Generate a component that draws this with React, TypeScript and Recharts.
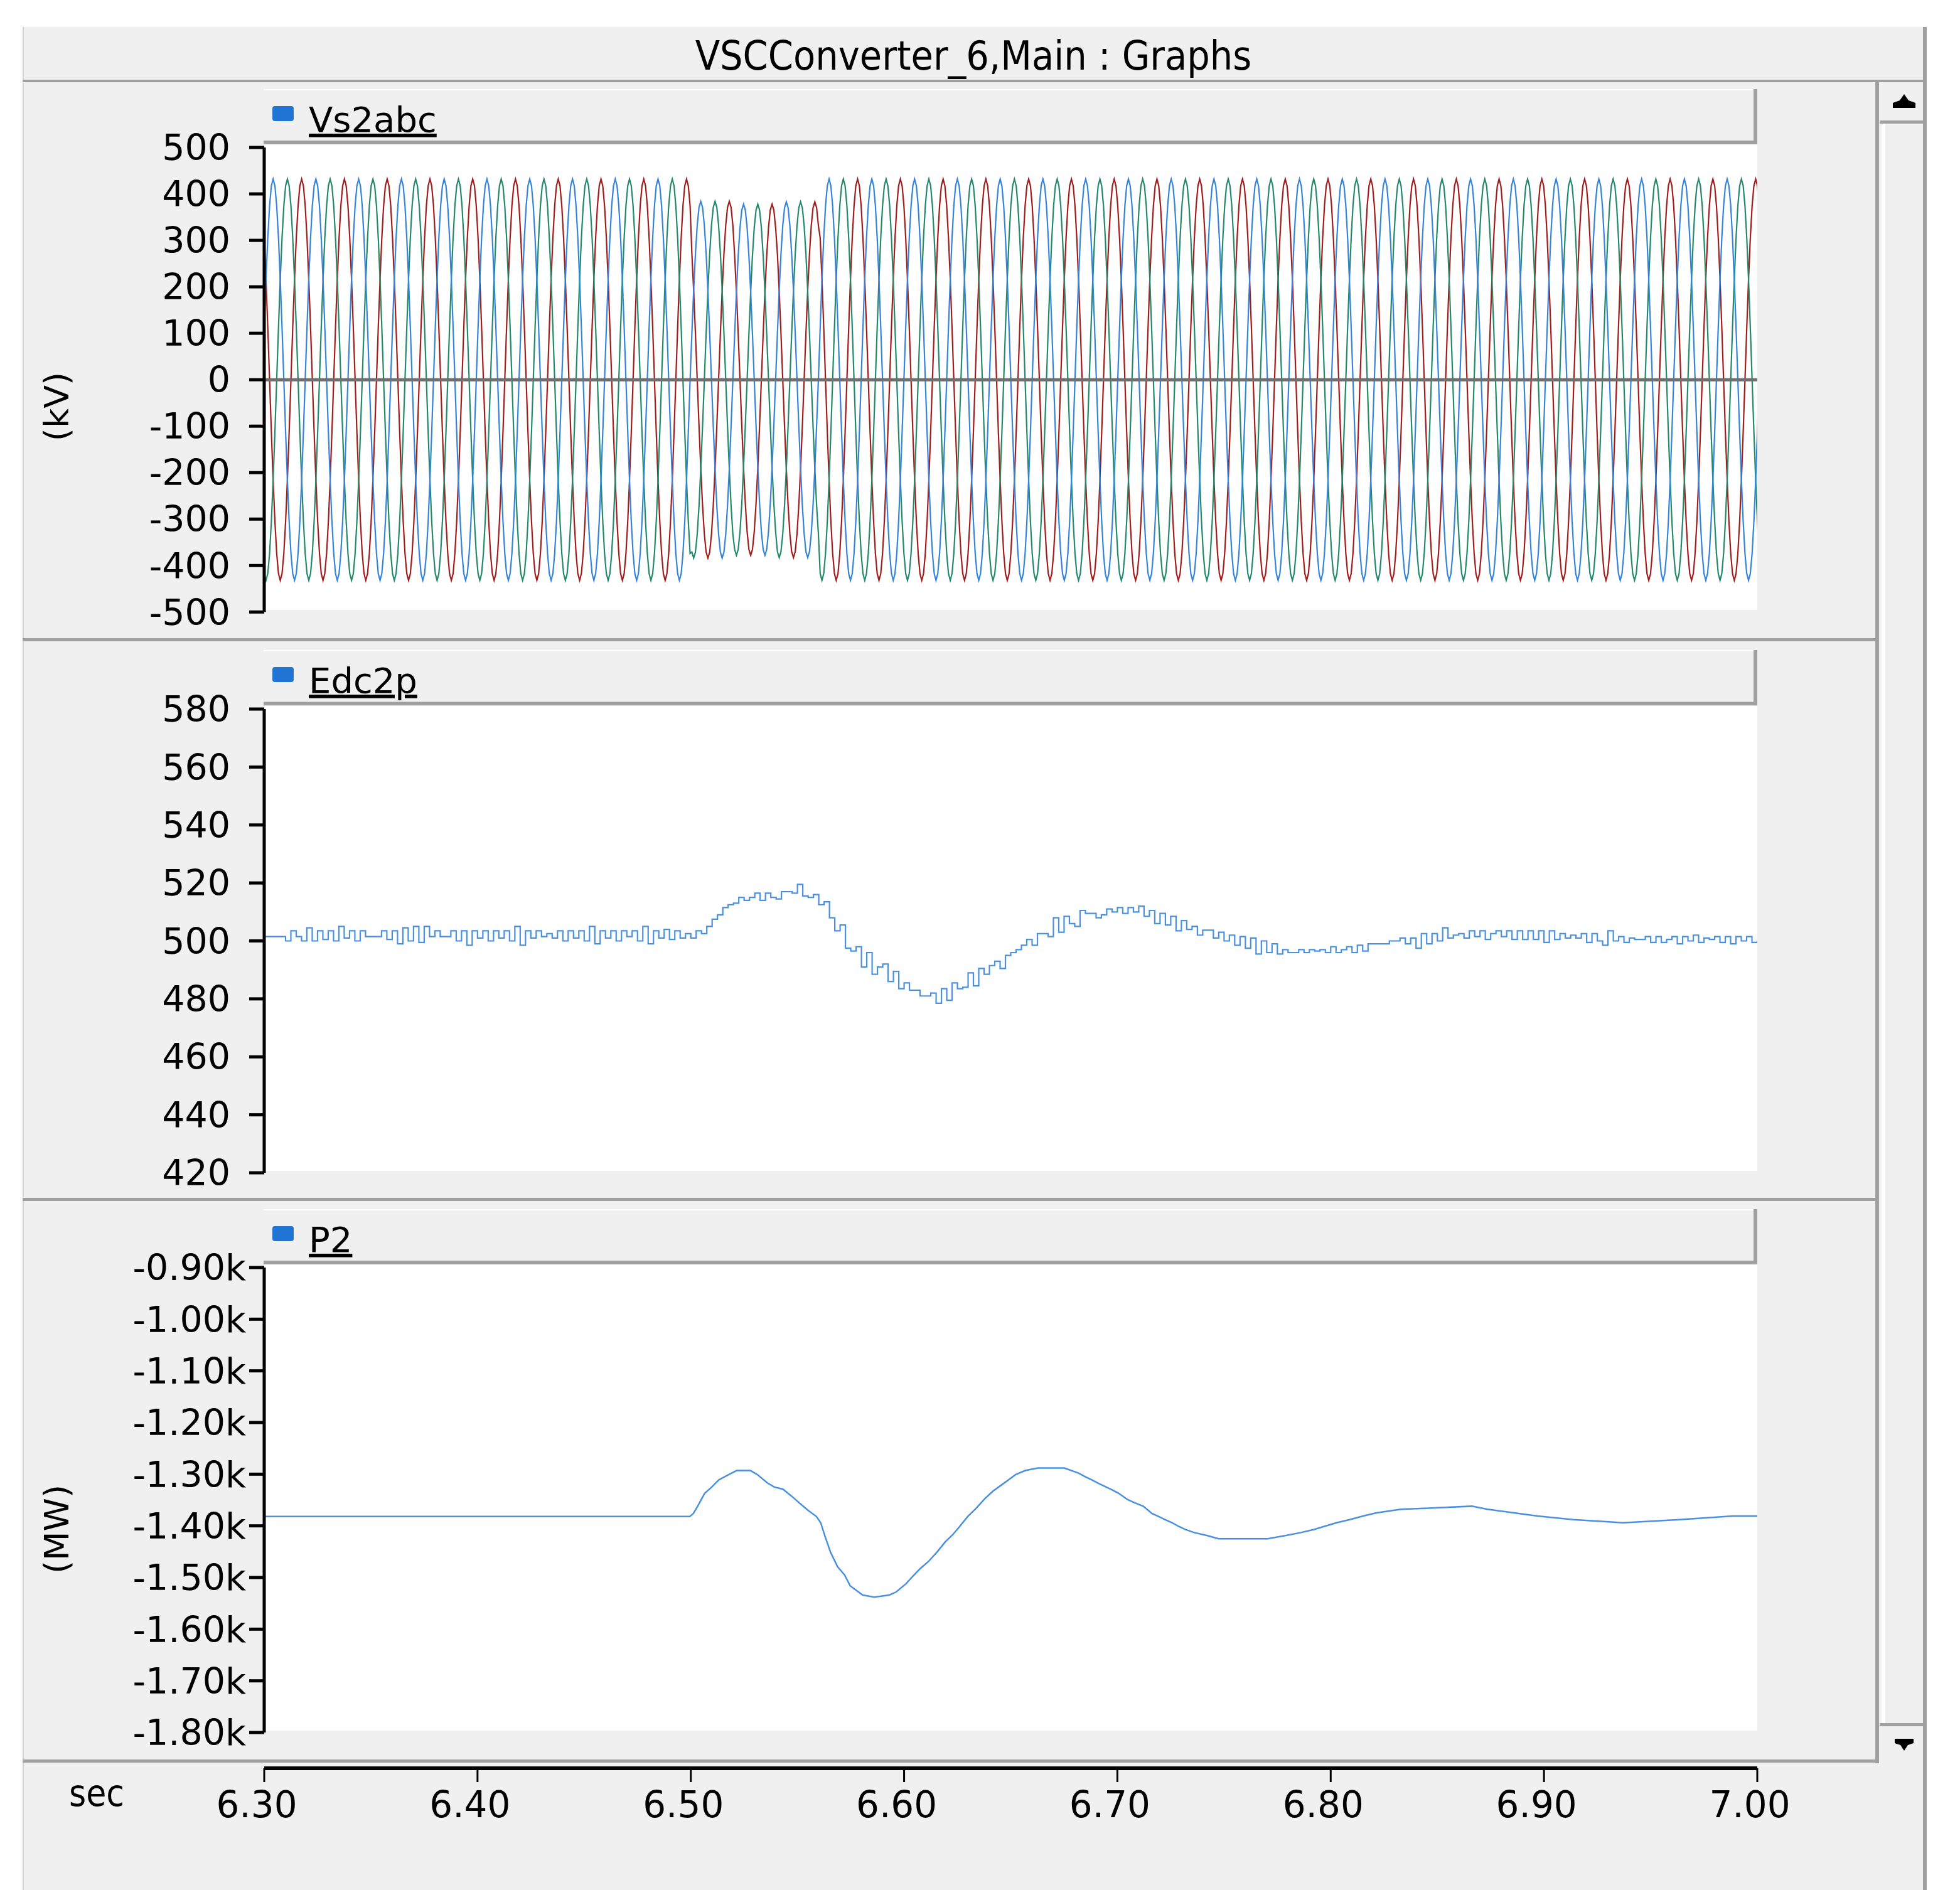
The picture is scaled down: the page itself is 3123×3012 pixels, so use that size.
import React from 'react';
import { LineChart, Line, XAxis, YAxis, ReferenceLine } from 'recharts';

const FONT_C = '"DejaVu Sans Condensed", "DejaVu Sans", Verdana, sans-serif';
const FONT = '"DejaVu Sans", Verdana, sans-serif';

const titleText = 'VSCConverter_6,Main : Graphs';
const timeDomain = [6.3, 7.0];
const timeTicks = [6.3, 6.4, 6.5, 6.6, 6.7, 6.8, 6.9, 7.0];

const vsTicks = [500, 400, 300, 200, 100, 0, -100, -200, -300, -400, -500];
const edcTicks = [580, 560, 540, 520, 500, 480, 460, 440, 420];
const p2Ticks = [-900, -1000, -1100, -1200, -1300, -1400, -1500, -1600, -1700, -1800];

// Vs2abc : one sampled cycle (24 samples, normalised), the period read from the peaks, and the peak (kV) of every cycle
const vsStart = 6.3;
const vsCycleSeconds = 0.02005;
const vsUnitCycle = [0, 0.259, 0.5, 0.707, 0.866, 0.966, 1, 0.966, 0.866, 0.707, 0.5, 0.259,
  0, -0.259, -0.5, -0.707, -0.866, -0.966, -1, -0.966, -0.866, -0.707, -0.5, -0.259];
const vsCyclePeak = [432, 432, 432, 432, 432, 432, 432, 432, 432, 432,
  384, 378, 383,
  432, 432, 432, 432, 432, 432, 432, 432, 432, 432, 432,
  432, 432, 432, 432, 432, 432, 432, 432, 432, 432, 432];
const vsPhaseOffset = { blue: 1, red: 9, green: 17 };

// Edc2p (kV), one value every 2.5 ms from 6.30 s
const edcStart = 6.3;
const edcStep = 0.0025;
const edcValues = [
  501.5, 501.5, 501.5, 501.5, 500, 503.5, 501.5, 500, 504.5, 500,
  503.5, 500.5, 503.5, 500, 505, 501, 503.5, 500, 503.5, 501.5,
  501.5, 501.5, 503.5, 500.5, 503.5, 499, 504.5, 500, 505, 499.5,
  505, 501.5, 503.5, 501.5, 501.5, 503.5, 500, 503.5, 498.5, 503.5,
  501, 503.5, 500, 503.5, 501, 503.5, 500, 505, 498.5, 503.5,
  501, 503.5, 501.5, 502.5, 501, 503.5, 500, 503.5, 501, 503.5,
  500, 505, 499, 503.5, 501, 503.5, 500, 503.5, 501.5, 503.5,
  500, 505, 499, 503.5, 501, 504, 500.5, 503.5, 501, 502.5,
  501, 503.5, 502.5, 505, 507.5, 509, 511.5, 512.5, 513, 515,
  514, 515, 516.5, 514, 516.5, 515, 514.5, 517, 517, 516.5,
  519.5, 515.5, 515, 516, 512.5, 513.5, 508, 503.5, 505.5, 497.5,
  496.5, 498, 491, 496, 488.5, 491, 492, 486, 489.5, 483.5,
  485.5, 483, 483, 481, 481, 482, 478.5, 483.5, 479.5, 485.5,
  483.5, 484, 489, 484.5, 490.5, 488.5, 491.5, 493, 490.5, 495,
  496, 497, 498.5, 500.5, 498.5, 502.5, 502.5, 501.5, 508, 503,
  508.5, 506, 505, 510.5, 509.5, 509.5, 508, 509,
  511, 510, 511.5, 509.5, 511.5, 510, 512, 508.5, 510.5, 506,
  509.5, 505.5, 508.5, 503.5, 507, 504, 505, 502, 503.7, 503.7,
  501, 503, 500, 502, 498.5, 501.5, 497.5, 501, 495.5, 500,
  496, 499, 495.5, 497, 496, 496, 497, 496, 497, 496.5,
  497, 496, 498, 496, 497, 498, 496, 498.5, 496.5, 499,
  499, 499, 499, 500, 500, 501, 499, 501, 497.5, 502.5,
  499, 502.5, 500, 504.5, 501, 502, 502.5, 501, 503.5, 501.5,
  503.5, 500.5, 502.5, 503.5, 501.5, 503.5, 500.5, 503.5, 500.5, 503.5,
  500.5, 503.5, 499.5, 503.5, 500.5, 502.5, 501, 502, 501, 502.5,
  499.5, 502.5, 500, 498.5, 503.5, 500, 501.5, 499.5, 501, 500.5,
  500.5, 501.5, 499.5, 501.5, 499.5, 500.5, 501.5, 499, 501.5, 500,
  502, 499.5, 501, 500.5, 501.5, 499.5, 501.5, 499, 501.5, 500,
  501.5, 499.5, 500,
];

// P2 (MW) read at its corners
const p2Time = [6.300, 6.4995, 6.5012, 6.5032, 6.5065, 6.5098, 6.5131, 6.5177, 6.5215, 6.528,
  6.5313, 6.5359, 6.5392, 6.5432, 6.5471, 6.551, 6.555, 6.5589, 6.5609, 6.5629,
  6.5655, 6.5688, 6.5721, 6.5747, 6.5773, 6.5806, 6.586, 6.593, 6.5963, 6.6009,
  6.6042, 6.6075, 6.6114, 6.6154, 6.6193, 6.6226, 6.6259, 6.6298, 6.6338, 6.6377,
  6.6416, 6.6456, 6.6489, 6.6522, 6.6568, 6.6627, 6.6751, 6.6818, 6.6849, 6.688,
  6.6912, 6.6943, 6.6974, 6.7006, 6.7047, 6.7079, 6.7121, 6.7162, 6.7194, 6.7224,
  6.7256, 6.7287, 6.7318, 6.736, 6.7422, 6.7474, 6.7704, 6.7787, 6.786, 6.7922,
  6.797, 6.8027, 6.8089, 6.8152, 6.8214, 6.8329, 6.8662, 6.8735, 6.886, 6.897,
  6.9137, 6.937, 6.9636, 6.9886, 7.0];
const p2Value = [-1382, -1382, -1376, -1362, -1337, -1325, -1311, -1301, -1293, -1293,
  -1301, -1317, -1325, -1329, -1342, -1356, -1370, -1382, -1394, -1420,
  -1451, -1479, -1495, -1516, -1524, -1534, -1538, -1534, -1528, -1512,
  -1497, -1483, -1469, -1451, -1431, -1418, -1402, -1382, -1366, -1348,
  -1333, -1321, -1311, -1301, -1293, -1288, -1288, -1298, -1305, -1311,
  -1318, -1324, -1330, -1337, -1349, -1355, -1362, -1376, -1382, -1388,
  -1394, -1401, -1407, -1413, -1419, -1425, -1425, -1419, -1413, -1407,
  -1401, -1394, -1388, -1381, -1375, -1368, -1362, -1368, -1375, -1381,
  -1388, -1394, -1388, -1381, -1381];

const vsRows = (() => {
  const n = vsUnitCycle.length;
  const rows: any[] = [];
  const total = vsCyclePeak.length * n;
  for (let k = 0; k <= total; k++) {
    const cyc = Math.min(Math.floor(k / n), vsCyclePeak.length - 1);
    const amp = vsCyclePeak[cyc];
    rows.push({
      t: vsStart + (k * vsCycleSeconds) / n,
      blue: amp * vsUnitCycle[(k + vsPhaseOffset.blue) % n],
      red: amp * vsUnitCycle[(k + vsPhaseOffset.red) % n],
      green: amp * vsUnitCycle[(k + vsPhaseOffset.green) % n],
    });
  }
  return rows;
})();
const edcRows = edcValues.map((v, i) => ({ t: edcStart + i * edcStep, v }));
const p2Rows = p2Time.map((t, i) => ({ t, v: p2Value[i] }));

const GRAY = '#f0f0f0';
const BORDER = '#a0a0a0';
const PLOT_L = 421;
const PLOT_R = 2800;

const panels = [
  { top: 131, bottom: 1020, headerTop: 142, headerBottom: 230, topTick: 235, bottomTick: 975.3, plotBottom: 972, legend: 'Vs2abc', unit: '(kV)', unitY: 648 },
  { top: 1020, bottom: 1912, headerTop: 1036, headerBottom: 1124.5, topTick: 1129.5, bottomTick: 1868.5, plotBottom: 1866, legend: 'Edc2p', unit: '', unitY: 0 },
  { top: 1912, bottom: 2807, headerTop: 1927, headerBottom: 2015, topTick: 2020, bottomTick: 2761, plotBottom: 2758, legend: 'P2', unit: '(MW)', unitY: 2437 },
];

const axisCommon = {
  tickSize: 24,
  axisLine: { stroke: '#000', strokeWidth: 5 },
  tickLine: { stroke: '#000', strokeWidth: 5 },
  tick: { fontSize: 57, fill: '#000', fontFamily: FONT },
  interval: 0 as const,
  width: PLOT_L,
  allowDataOverflow: true,
  type: 'number' as const,
};

function Background() {
  return (
    <svg width={3123} height={3012} style={{ position: 'absolute', left: 0, top: 0 }}>
      <rect x={0} y={0} width={3123} height={3012} fill="#ffffff" />
      <rect x={36} y={43} width={3034} height={2969} fill={GRAY} />
      <rect x={36} y={43} width={2} height={2969} fill="#d0d0d0" />
      <rect x={3064} y={43} width={6} height={2969} fill={BORDER} />
      <rect x={36} y={127} width={3034} height={4} fill={BORDER} />
      <text x={1551} y={111} textAnchor="middle" fontSize={64} fontFamily={FONT_C} fill="#000">{titleText}</text>
      {panels.map((p, i) => (
        <g key={i}>
          <rect x={36} y={p.bottom - 3} width={2958} height={5} fill={BORDER} />
          <rect x={420} y={p.headerTop} width={PLOT_R - 420} height={p.headerBottom - p.headerTop} fill={GRAY} />
          <rect x={420} y={p.headerTop} width={PLOT_R - 420} height={2} fill="#ffffff" />
          <rect x={420} y={p.headerBottom - 6} width={PLOT_R - 420} height={6} fill={BORDER} />
          <rect x={PLOT_R - 6} y={p.headerTop} width={6} height={p.headerBottom - p.headerTop} fill={BORDER} />
          <rect x={PLOT_L} y={p.headerBottom} width={PLOT_R - PLOT_L} height={p.plotBottom - p.headerBottom} fill="#ffffff" />
          <rect x={434} y={p.headerTop + 27} width={34} height={24} rx={4} fill="#1f74d4" />
          <text x={492} y={p.headerTop + 68} fontSize={56} fontFamily={FONT} fill="#000" textDecoration="underline">{p.legend}</text>
          {p.unit ? (
            <text x={90} y={p.unitY} transform={`rotate(-90 90 ${p.unitY})`} textAnchor="middle" dominantBaseline="central" fontSize={54} fontFamily={FONT} fill="#000">{p.unit}</text>
          ) : null}
        </g>
      ))}
      <rect x={2988} y={131} width={6} height={2679} fill={BORDER} />
      {/* scrollbar */}
      <rect x={2998} y={197} width={6} height={2550} fill="#ffffff" />
      <rect x={2995} y={192} width={69} height={5} fill={BORDER} />
      <rect x={2995} y={2746} width={69} height={5} fill={BORDER} />
      <polygon points="3034,150 3041,160 3052,164 3052,172 3016,172 3016,164 3027,160" fill="#000" />
      <polygon points="3034,2790 3040,2781 3049,2778 3049,2771 3019,2771 3019,2778 3028,2781" fill="#000" />
      <text x={110} y={2878} fontSize={58} fontFamily={FONT_C} fill="#000">sec</text>
    </svg>
  );
}

function PanelChart({ p, rows, domain, ticks, tickMargin, fmt, children }: any) {
  const m = 40;
  return (
    <div style={{ position: 'absolute', left: 0, top: p.topTick - m }}>
      <LineChart width={2900} height={p.bottomTick - p.topTick + 2 * m} data={rows} margin={{ top: m, right: 100, bottom: m, left: 0 }}>
        <XAxis type="number" dataKey="t" domain={timeDomain} hide allowDataOverflow />
        <YAxis {...axisCommon} domain={domain} ticks={ticks} tickMargin={tickMargin} tickFormatter={fmt} />
        {children}
      </LineChart>
    </div>
  );
}

export default function App() {
  return (
    <div style={{ position: 'absolute', left: 0, top: 0, width: 3123, height: 3012, overflow: 'hidden', background: '#fff' }}>
      <Background />
      <PanelChart p={panels[0]} rows={vsRows} domain={[-500, 500]} ticks={vsTicks} tickMargin={30} fmt={(v: number) => String(v)}>
        <Line type="linear" dataKey="red" stroke="#a31c1c" strokeWidth={2.2} dot={false} isAnimationActive={false} />
        <Line type="linear" dataKey="green" stroke="#23896a" strokeWidth={2.2} dot={false} isAnimationActive={false} />
        <Line type="linear" dataKey="blue" stroke="#3584dc" strokeWidth={2.2} dot={false} isAnimationActive={false} />
        <ReferenceLine y={0} stroke="#6e6e6e" strokeWidth={5} />
      </PanelChart>
      <PanelChart p={panels[1]} rows={edcRows} domain={[420, 580]} ticks={edcTicks} tickMargin={30} fmt={(v: number) => String(v)}>
        <Line type="stepAfter" dataKey="v" stroke="#4a90e0" strokeWidth={2.2} dot={false} isAnimationActive={false} />
      </PanelChart>
      <PanelChart p={panels[2]} rows={p2Rows} domain={[-1800, -900]} ticks={p2Ticks} tickMargin={5} fmt={(v: number) => (v / 1000).toFixed(2) + 'k'}>
        <Line type="linear" dataKey="v" stroke="#4a90e0" strokeWidth={2.5} dot={false} isAnimationActive={false} />
      </PanelChart>
      <div style={{ position: 'absolute', left: 0, top: 2808 }}>
        <LineChart width={2900} height={150} data={edcRows} margin={{ top: 10, right: 100, bottom: 0, left: PLOT_L }}>
          <XAxis
            type="number"
            dataKey="t"
            domain={timeDomain}
            ticks={timeTicks}
            interval={0}
            allowDataOverflow
            height={140}
            tickSize={22}
            tickMargin={15}
            axisLine={{ stroke: '#000', strokeWidth: 6 }}
            tickLine={{ stroke: '#000', strokeWidth: 3 }}
            tick={{ fontSize: 58, fill: '#000', fontFamily: FONT, dx: -12 }}
            tickFormatter={(v: number) => v.toFixed(2)}
          />
          <Line type="linear" dataKey="v" stroke="none" dot={false} isAnimationActive={false} />
        </LineChart>
      </div>
    </div>
  );
}
